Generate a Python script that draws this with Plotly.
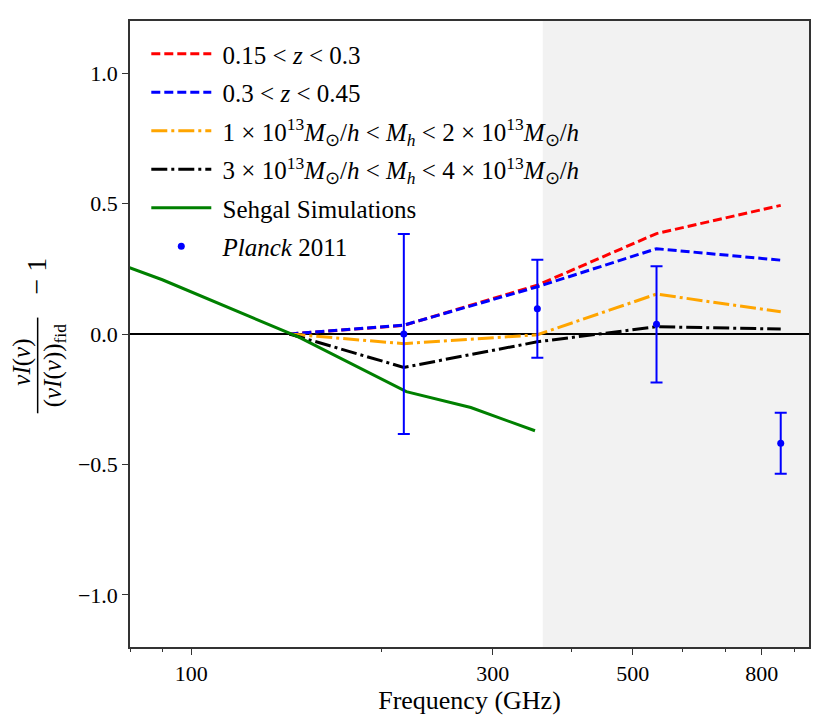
import plotly.graph_objects as go

# model frequencies (GHz) and fractional change of nu I(nu)
freq_model = [143, 217, 353, 545, 857]
z_low = [0.0, 0.033, 0.187, 0.385, 0.493]
z_high = [0.0, 0.034, 0.181, 0.327, 0.283]
mass_low = [0.0, -0.037, -0.003, 0.153, 0.085]
mass_high = [0.0, -0.128, -0.030, 0.028, 0.019]

# Sehgal et al. simulations
freq_sehgal = [30, 90, 148, 219, 277, 350]
sehgal = [0.63, 0.208, -0.012, -0.221, -0.282, -0.371]

# Planck 2011 points
freq_planck = [217, 353, 545, 857]
planck = [0.0, 0.097, 0.037, -0.419]
planck_err = [0.383, 0.188, 0.223, 0.117]

shade_start = 360
x_range = [80, 950]

xtick_vals = [100, 300, 500, 800]
xtick_text = ["100", "300", "500", "800"]
xminor_vals = [80, 90, 200, 400, 600, 700, 900]
ytick_vals = [-1.0, -0.5, 0.0, 0.5, 1.0]
ytick_text = ["\u22121.0", "\u22120.5", "0.0", "0.5", "1.0"]

FONT = "Liberation Serif"
M = "<i>M</i><sub>\u2299</sub>/<i>h</i>"

fig = go.Figure()

fig.add_trace(go.Scatter(
    x=freq_model, y=z_low, mode="lines", legendgroup="a",
    line=dict(color="red", width=3, dash="9px,4px"),
    name=" 0.15 &lt; <i>z</i> &lt; 0.3"))
fig.add_trace(go.Scatter(
    x=freq_model, y=z_high, mode="lines", legendgroup="b",
    line=dict(color="blue", width=3, dash="9px,4px"),
    name=" 0.3 &lt; <i>z</i> &lt; 0.45"))
fig.add_trace(go.Scatter(
    x=freq_model, y=mass_low, mode="lines", legendgroup="c",
    line=dict(color="orange", width=3, dash="16px,4px,3px,4px"),
    name=" 1 \u00d7 10<sup>13</sup>" + M + " &lt; <i>M<sub>h</sub></i> &lt; 2 \u00d7 10<sup>13</sup>" + M))
fig.add_trace(go.Scatter(
    x=freq_model, y=mass_high, mode="lines", legendgroup="d",
    line=dict(color="black", width=3, dash="16px,4px,3px,4px"),
    name=" 3 \u00d7 10<sup>13</sup>" + M + " &lt; <i>M<sub>h</sub></i> &lt; 4 \u00d7 10<sup>13</sup>" + M))
fig.add_trace(go.Scatter(
    x=freq_sehgal, y=sehgal, mode="lines", legendgroup="e",
    line=dict(color="green", width=3),
    name=" Sehgal Simulations"))
fig.add_trace(go.Scatter(
    x=freq_planck, y=planck, mode="markers", legendgroup="f",
    marker=dict(color="blue", size=7),
    error_y=dict(type="data", array=planck_err, color="blue", thickness=2, width=6),
    name=" <i>Planck</i> 2011"))

# high-frequency band shading
fig.add_shape(type="rect", xref="x", yref="paper",
              x0=shade_start, x1=x_range[1], y0=0, y1=1,
              fillcolor="rgb(242,242,242)", line=dict(width=0), layer="below")

# y-axis label as a stacked fraction
lab_font = dict(family=FONT, size=25, color="black")
fig.add_annotation(xref="paper", yref="y", x=0, y=-0.11, xshift=-108,
                   text="<i>\u03bdI</i>(<i>\u03bd</i>)", textangle=-90,
                   showarrow=False, font=lab_font, xanchor="center", yanchor="middle")
fig.add_annotation(xref="paper", yref="y", x=0, y=-0.12, xshift=-76,
                   text="(<i>\u03bdI</i>(<i>\u03bd</i>))<sub>fid</sub>", textangle=-90,
                   showarrow=False, font=lab_font, xanchor="center", yanchor="middle")
fig.add_annotation(xref="paper", yref="y", x=0, y=0.22, xshift=-93,
                   text="\u2212 1", textangle=-90,
                   showarrow=False, font=dict(family=FONT, size=28, color="black"),
                   xanchor="center", yanchor="middle")
fig.add_shape(type="line", xref="paper", yref="y",
              x0=-0.136, x1=-0.136, y0=0.063, y1=-0.304,
              line=dict(color="black", width=1.5))

# page body adds 8px, so the figure is drawn 8px smaller
fig.update_layout(
    width=822, height=719,
    margin=dict(l=122, r=21, t=13, b=80, autoexpand=False),
    paper_bgcolor="white", plot_bgcolor="white",
    font=dict(family=FONT, size=22, color="black"),
    showlegend=True,
    legend=dict(x=0.024, y=0.984, xanchor="left", yanchor="top",
                bgcolor="rgba(0,0,0,0)", font=dict(family=FONT, size=25),
                traceorder="grouped", tracegroupgap=3, itemwidth=60),
)

fig.update_xaxes(
    type="log", autorange=False, range=[1.90309, 2.97772],
    tickvals=xtick_vals, ticktext=xtick_text,
    ticks="outside", ticklen=6, tickcolor="#333",
    minor=dict(tickvals=xminor_vals, ticks="outside", ticklen=3, tickcolor="#333"),
    showgrid=False, showline=True, linecolor="#333", linewidth=1.5, mirror=True,
    automargin=False,
    title=dict(text="Frequency (GHz)", font=dict(family=FONT, size=26), standoff=0),
)
fig.update_yaxes(
    range=[-1.2, 1.2], autorange=False,
    tickvals=ytick_vals, ticktext=ytick_text,
    ticks="outside", ticklen=6, tickcolor="#333",
    showgrid=False, showline=True, linecolor="#333", linewidth=1.5, mirror=True,
    automargin=False,
    zeroline=True, zerolinecolor="black", zerolinewidth=2,
)

fig.write_html("out.html")
